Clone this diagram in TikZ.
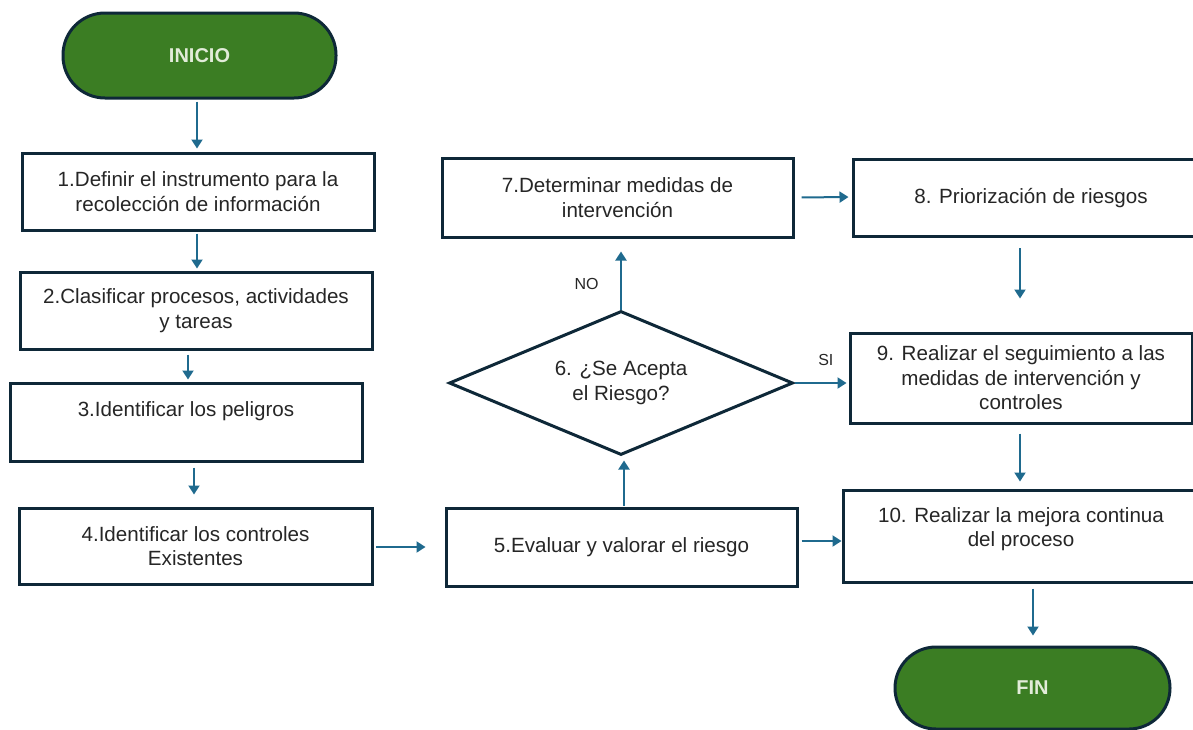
\documentclass[tikz,border=0pt]{standalone}
\usepackage{fontspec}
\setmainfont{Liberation Sans}
\usetikzlibrary{shapes.geometric,arrows.meta,calc}
\definecolor{boxline}{HTML}{0E2838}
\definecolor{arrcol}{HTML}{1F6A8E}
\definecolor{termfill}{HTML}{3B7D23}
\definecolor{termtext}{HTML}{E2ECD9}
\definecolor{txt}{HTML}{262626}
\begin{document}
\begin{tikzpicture}[x=1pt,y=-1pt,
  font=\fontsize{20.6}{24.5}\selectfont,
  stepbox/.style={draw=boxline,line width=3pt,fill=white,rectangle,align=center,
    inner sep=0pt,text=txt},
  term/.style={draw=boxline,line width=3pt,fill=termfill,rectangle,
    inner sep=0pt,text=termtext,font=\fontsize{20}{24}\selectfont\bfseries},
  decide/.style={draw=boxline,line width=3pt,fill=white,diamond,aspect=2.39,align=center,
    inner sep=0pt,text=txt},
  arr/.style={draw=arrcol,line width=2pt,-{Triangle[width=11pt,length=9pt]}},
  lbl/.style={text=txt,font=\fontsize{16}{18}\selectfont}]
\clip (0,0) rectangle (1193,729);
\fill[white] (0,0) rectangle (1193,729);

\node[term,minimum width=273,minimum height=85,rounded corners=42pt] (inicio) at (199.5,55.5) {INICIO};
\node[stepbox,minimum width=352,minimum height=77] (b1) at (198,191.5) {1.Definir el instrumento para la\\recolección de información};
\node[stepbox,minimum width=352,minimum height=77] (b2) at (196,310.5) {2.Clasificar procesos, actividades\\y tareas};
\node[stepbox,minimum width=352,minimum height=78] (b3) at (186,422) {3.Identificar los peligros\\[-6pt]\strut};
\node[stepbox,minimum width=353,minimum height=76] (b4) at (195.5,546) {4.Identificar los controles\\Existentes};
\node[stepbox,minimum width=351,minimum height=78] (b5) at (621.5,547) {5.Evaluar y valorar el riesgo};
\node[decide,minimum width=344,minimum height=144] (d6) at (621,383) {6. ¿Se Acepta\\el Riesgo?};
\node[stepbox,minimum width=351,minimum height=79] (b7) at (617.5,197.5) {7.Determinar medidas de\\intervención};
\node[stepbox,minimum width=356,minimum height=77] (b8) at (1031,198) {8. Priorización de riesgos};
\node[stepbox,minimum width=342,minimum height=90] (b9) at (1021,378) {9. Realizar el seguimiento a las\\medidas de intervención y\\controles};
\node[stepbox,minimum width=356,minimum height=92] (b10) at (1021,536) {10. Realizar la mejora continua\\del proceso\\[-14pt]\strut};
\node[term,minimum width=275,minimum height=82,rounded corners=41pt] (fin) at (1032.5,688) {FIN};

\draw[arr,shorten <=2pt,shorten >=3pt] ([xshift=-2.5pt]inicio.south) -- ([xshift=-1pt]b1.north);
\draw[arr,shorten <=2pt,shorten >=2pt] ([xshift=-1pt]b1.south) -- ([xshift=1pt]b2.north);
\draw[arr,shorten <=4pt,shorten >=2pt] ([xshift=-8pt]b2.south) -- ([xshift=2pt]b3.north);
\draw[arr,shorten <=5pt,shorten >=12pt] ([xshift=8pt]b3.south) -- ([xshift=-1.5pt]b4.north);
\draw[arr,shorten <=2.5pt,shorten >=19pt] ([yshift=-1pt]b4.east) -- (b5.west);
\draw[arr,shorten <=1pt,shorten >=4pt] ([xshift=2.5pt]b5.north) -- ([xshift=3pt]d6.south);
\draw[arr,shorten <=0pt,shorten >=13pt] (d6.north) -- ([xshift=3.5pt]b7.south)
  node[lbl,pos=0.36,left=18pt] (no) {NO};
\draw[arr,shorten <=7pt,shorten >=3pt] (b7.east) -- ([yshift=1pt]b8.west);
\draw[arr,shorten <=10pt,shorten >=33pt] ([xshift=-11pt]b8.south) -- ([xshift=-1pt]b9.north);
\draw[arr,shorten <=0pt,shorten >=2pt] (d6.east) -- ([yshift=-5pt]b9.west)
  node[lbl,pos=0.58,above=13pt] (si) {SI};
\draw[arr,shorten <=9pt,shorten >=7pt] ([xshift=-1pt]b9.south) -- ([xshift=-1pt]b10.north);
\draw[arr,shorten <=3pt,shorten >=0pt] ([yshift=6pt]b5.east) -- ([yshift=-5pt]b10.west);
\draw[arr,shorten <=5pt,shorten >=10pt] ([xshift=12pt]b10.south) -- ([xshift=0.5pt]fin.north);
\end{tikzpicture}
\end{document}
